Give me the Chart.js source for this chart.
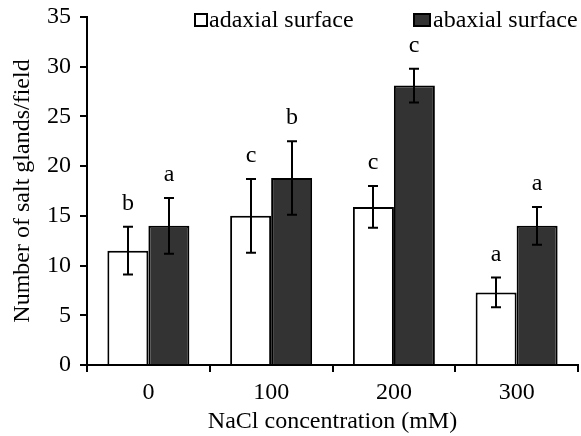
<!DOCTYPE html>
<html>
<head>
<meta charset="utf-8">
<script src="https://cdn.jsdelivr.net/npm/chart.js@4"></script>
<style>
html,body{margin:0;padding:0;background:#fff;}
#wrap{width:581px;height:436px;position:relative;}
</style>
</head>
<body>
<div id="wrap"><canvas id="c" width="581" height="436"></canvas></div>
<script>
// ---- data ----
const categories = ['0', '100', '200', '300'];
const seriesNames = ['adaxial surface', 'abaxial surface'];
const adaxialValues = [11.5, 15.0, 15.9, 7.3];
const adaxialErrors = [2.4, 3.7, 2.1, 1.5];
const abaxialValues = [14.0, 18.8, 28.1, 14.0];
const abaxialErrors = [2.8, 3.7, 1.7, 1.9];
const adaxialLetters = ['b', 'c', 'c', 'a'];
const abaxialLetters = ['a', 'b', 'c', 'a'];
const yTicks = [0, 5, 10, 15, 20, 25, 30, 35];
const xTitle = 'NaCl concentration (mM)';
const yTitle = 'Number of salt glands/field';

const FONT = '"Liberation Serif", "Times New Roman", serif';
const DARK = '#333333';

const errorsBySet = [adaxialErrors, abaxialErrors];
const lettersBySet = [adaxialLetters, abaxialLetters];

const errorPlugin = {
  id: 'errorBars',
  afterDatasetsDraw(chart) {
    const ctx = chart.ctx;
    const y = chart.scales.y;
    ctx.save();
    ctx.strokeStyle = '#000';
    ctx.lineWidth = 2;
    ctx.fillStyle = '#000';
    ctx.font = '24px ' + FONT;
    ctx.textAlign = 'center';
    ctx.textBaseline = 'alphabetic';
    chart.data.datasets.forEach((ds, di) => {
      const meta = chart.getDatasetMeta(di);
      meta.data.forEach((bar, i) => {
        const v = ds.data[i], e = errorsBySet[di][i];
        const yt = y.getPixelForValue(v + e);
        const yb = y.getPixelForValue(v - e);
        const x = Math.round(bar.x);
        ctx.beginPath();
        ctx.moveTo(x, yt); ctx.lineTo(x, yb);
        ctx.moveTo(x - 5, yt); ctx.lineTo(x + 5, yt);
        ctx.moveTo(x - 5, yb); ctx.lineTo(x + 5, yb);
        ctx.stroke();
        ctx.fillText(lettersBySet[di][i], x, yt - 17);
      });
    });
    ctx.restore();
  }
};

const legendPlugin = {
  id: 'customLegend',
  afterDraw(chart) {
    const ctx = chart.ctx;
    ctx.save();
    ctx.font = '24px ' + FONT;
    ctx.textAlign = 'left';
    ctx.textBaseline = 'alphabetic';
    ctx.lineWidth = 2;
    ctx.strokeStyle = '#000';
    // item 1
    ctx.fillStyle = '#fff';
    ctx.fillRect(195, 14, 12, 12);
    ctx.strokeRect(195, 14, 12, 12);
    ctx.fillStyle = '#000';
    ctx.fillText(seriesNames[0], 209, 27);
    // item 2
    ctx.fillStyle = DARK;
    ctx.fillRect(414, 14, 16, 12);
    ctx.strokeRect(414, 14, 16, 12);
    ctx.fillStyle = '#000';
    ctx.fillText(seriesNames[1], 433, 27);
    ctx.restore();
  }
};

new Chart(document.getElementById('c'), {
  type: 'bar',
  data: {
    labels: categories,
    datasets: [
      { label: seriesNames[0], data: adaxialValues, backgroundColor: '#ffffff', borderColor: '#000', borderWidth: 2, borderSkipped: 'start' },
      { label: seriesNames[1], data: abaxialValues, backgroundColor: DARK, borderColor: '#000', borderWidth: 2, borderSkipped: 'start' }
    ]
  },
  options: {
    responsive: false,
    animation: false,
    devicePixelRatio: 1,
    layout: { padding: { left: 0, right: 3, top: 17, bottom: 0 } },
    datasets: { bar: { categoryPercentage: 0.668, barPercentage: 1.0 } },
    plugins: { legend: { display: false }, tooltip: { enabled: false } },
    scales: {
      x: {
        grid: { offset: true, drawOnChartArea: false, drawTicks: true, tickLength: 7, color: '#000', lineWidth: 2 },
        border: { display: true, color: '#000', width: 2 },
        ticks: { color: '#000', font: { family: FONT, size: 24 }, padding: 6, maxRotation: 0 },
        title: { display: true, text: xTitle, color: '#000', font: { family: FONT, size: 24 }, padding: { top: 0, bottom: 0 } },
        afterFit(s) { s.height = 71; s.paddingLeft = 0; s.paddingRight = 0; }
      },
      y: {
        min: 0, max: 35,
        afterBuildTicks(s) { s.ticks = yTicks.map(v => ({ value: v })); },
        grid: { drawOnChartArea: false, drawTicks: true, tickLength: 7, color: '#000', lineWidth: 2 },
        border: { display: true, color: '#000', width: 2 },
        ticks: { color: '#000', font: { family: FONT, size: 24 }, padding: 9 },
        title: { display: true, text: yTitle, color: '#000', font: { family: FONT, size: 24 }, padding: { top: 8, bottom: 0 } },
        afterFit(s) { s.width = 87; s.paddingTop = 0; s.paddingBottom = 0; }
      }
    }
  },
  plugins: [errorPlugin, legendPlugin]
});
</script>
</body>
</html>
